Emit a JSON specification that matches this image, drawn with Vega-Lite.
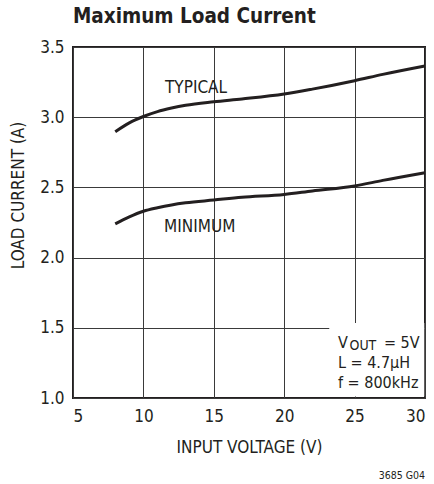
{
  "$schema": "https://vega.github.io/schema/vega-lite/v6.json",
  "width": 352,
  "height": 351,
  "autosize": "none",
  "padding": {"left": 73, "top": 47, "right": 9, "bottom": 86},
  "background": "white",
  "title": {
    "text": "Maximum Load Current",
    "anchor": "start",
    "frame": "group",
    "font": "DejaVu Sans Condensed",
    "fontSize": 20.5,
    "fontWeight": "bold",
    "color": "#231f20",
    "offset": 11
  },
  "config": {
    "view": {"stroke": "#231f20", "strokeWidth": 2},
    "axis": {
      "labelFont": "DejaVu Sans Condensed",
      "titleFont": "DejaVu Sans Condensed",
      "labelFontSize": 17,
      "titleFontSize": 17,
      "titleFontWeight": "normal",
      "labelColor": "#231f20",
      "titleColor": "#231f20",
      "grid": true,
      "gridColor": "#3a3a3a",
      "gridWidth": 1,
      "gridOpacity": 1,
      "ticks": false,
      "domain": false
    },
    "text": {"font": "DejaVu Sans Condensed", "color": "#231f20"}
  },
  "datasets": {
    "curves": [
      {"vin": 8, "iload": 2.897, "series": "TYPICAL"},
      {"vin": 9, "iload": 2.96, "series": "TYPICAL"},
      {"vin": 10, "iload": 3.005, "series": "TYPICAL"},
      {"vin": 11, "iload": 3.04, "series": "TYPICAL"},
      {"vin": 12, "iload": 3.065, "series": "TYPICAL"},
      {"vin": 13, "iload": 3.085, "series": "TYPICAL"},
      {"vin": 15, "iload": 3.11, "series": "TYPICAL"},
      {"vin": 17, "iload": 3.13, "series": "TYPICAL"},
      {"vin": 20, "iload": 3.165, "series": "TYPICAL"},
      {"vin": 22, "iload": 3.2, "series": "TYPICAL"},
      {"vin": 25, "iload": 3.26, "series": "TYPICAL"},
      {"vin": 27, "iload": 3.305, "series": "TYPICAL"},
      {"vin": 30, "iload": 3.365, "series": "TYPICAL"},
      {"vin": 8, "iload": 2.24, "series": "MINIMUM"},
      {"vin": 9, "iload": 2.29, "series": "MINIMUM"},
      {"vin": 10, "iload": 2.33, "series": "MINIMUM"},
      {"vin": 11, "iload": 2.355, "series": "MINIMUM"},
      {"vin": 12, "iload": 2.375, "series": "MINIMUM"},
      {"vin": 13, "iload": 2.39, "series": "MINIMUM"},
      {"vin": 15, "iload": 2.41, "series": "MINIMUM"},
      {"vin": 17, "iload": 2.43, "series": "MINIMUM"},
      {"vin": 20, "iload": 2.45, "series": "MINIMUM"},
      {"vin": 22, "iload": 2.475, "series": "MINIMUM"},
      {"vin": 25, "iload": 2.51, "series": "MINIMUM"},
      {"vin": 27, "iload": 2.55, "series": "MINIMUM"},
      {"vin": 30, "iload": 2.605, "series": "MINIMUM"}
    ],
    "labels": [
      {"vin": 13.74, "iload": 3.21, "label": "TYPICAL"},
      {"vin": 14.0, "iload": 2.22, "label": "MINIMUM"}
    ]
  },
  "layer": [
    {
      "data": {"values": [{"x1": 23.2, "x2": 29.95, "y1": 1.01, "y2": 1.535}]},
      "mark": {"type": "rect", "fill": "white"},
      "encoding": {
        "x": {"field": "x1", "type": "quantitative", "scale": {"domain": [5, 30], "nice": false},
          "axis": {"values": [5, 10, 15, 20, 25, 30], "title": "INPUT VOLTAGE (V)", "labelPadding": 10, "titlePadding": 15}},
        "x2": {"field": "x2"},
        "y": {"field": "y1", "type": "quantitative", "scale": {"domain": [1, 3.5], "nice": false},
          "axis": {"values": [1, 1.5, 2, 2.5, 3, 3.5], "format": ".1f", "title": "LOAD CURRENT (A)", "labelPadding": 9, "titlePadding": 12, "titleY": 148}},
        "y2": {"field": "y2"}
      }
    },
    {
      "data": {"name": "curves"},
      "mark": {"type": "line", "interpolate": "monotone", "stroke": "#231f20", "strokeWidth": 3},
      "encoding": {
        "x": {"field": "vin", "type": "quantitative"},
        "y": {"field": "iload", "type": "quantitative"},
        "detail": {"field": "series", "type": "nominal"}
      }
    },
    {
      "data": {"name": "labels"},
      "mark": {"type": "text", "fontSize": 17, "align": "center", "baseline": "middle"},
      "encoding": {
        "x": {"field": "vin", "type": "quantitative"},
        "y": {"field": "iload", "type": "quantitative"},
        "text": {"field": "label"}
      }
    },
    {
      "data": {"values": [
        {"vin": 23.82, "iload": 1.395, "t": "V"},
        {"vin": 23.82, "iload": 1.25, "t": "L = 4.7μH"},
        {"vin": 23.82, "iload": 1.107, "t": "f = 800kHz"}
      ]},
      "mark": {"type": "text", "fontSize": 16, "align": "left", "baseline": "middle"},
      "encoding": {
        "x": {"field": "vin", "type": "quantitative"},
        "y": {"field": "iload", "type": "quantitative"},
        "text": {"field": "t"}
      }
    },
    {
      "data": {"values": [{"vin": 23.82, "iload": 1.395, "t": "OUT"}]},
      "mark": {"type": "text", "fontSize": 14, "align": "left", "baseline": "middle", "dx": 11.5, "dy": 3.5},
      "encoding": {
        "x": {"field": "vin", "type": "quantitative"},
        "y": {"field": "iload", "type": "quantitative"},
        "text": {"field": "t"}
      }
    },
    {
      "data": {"values": [{"vin": 23.82, "iload": 1.395, "t": "= 5V"}]},
      "mark": {"type": "text", "fontSize": 16, "align": "left", "baseline": "middle", "dx": 46},
      "encoding": {
        "x": {"field": "vin", "type": "quantitative"},
        "y": {"field": "iload", "type": "quantitative"},
        "text": {"field": "t"}
      }
    },
    {
      "data": {"values": [{"vin": 30, "iload": 0.445, "t": "3685 G04"}]},
      "mark": {"type": "text", "fontSize": 10.5, "align": "right", "baseline": "middle"},
      "encoding": {
        "x": {"field": "vin", "type": "quantitative"},
        "y": {"field": "iload", "type": "quantitative"},
        "text": {"field": "t"}
      }
    }
  ]
}
